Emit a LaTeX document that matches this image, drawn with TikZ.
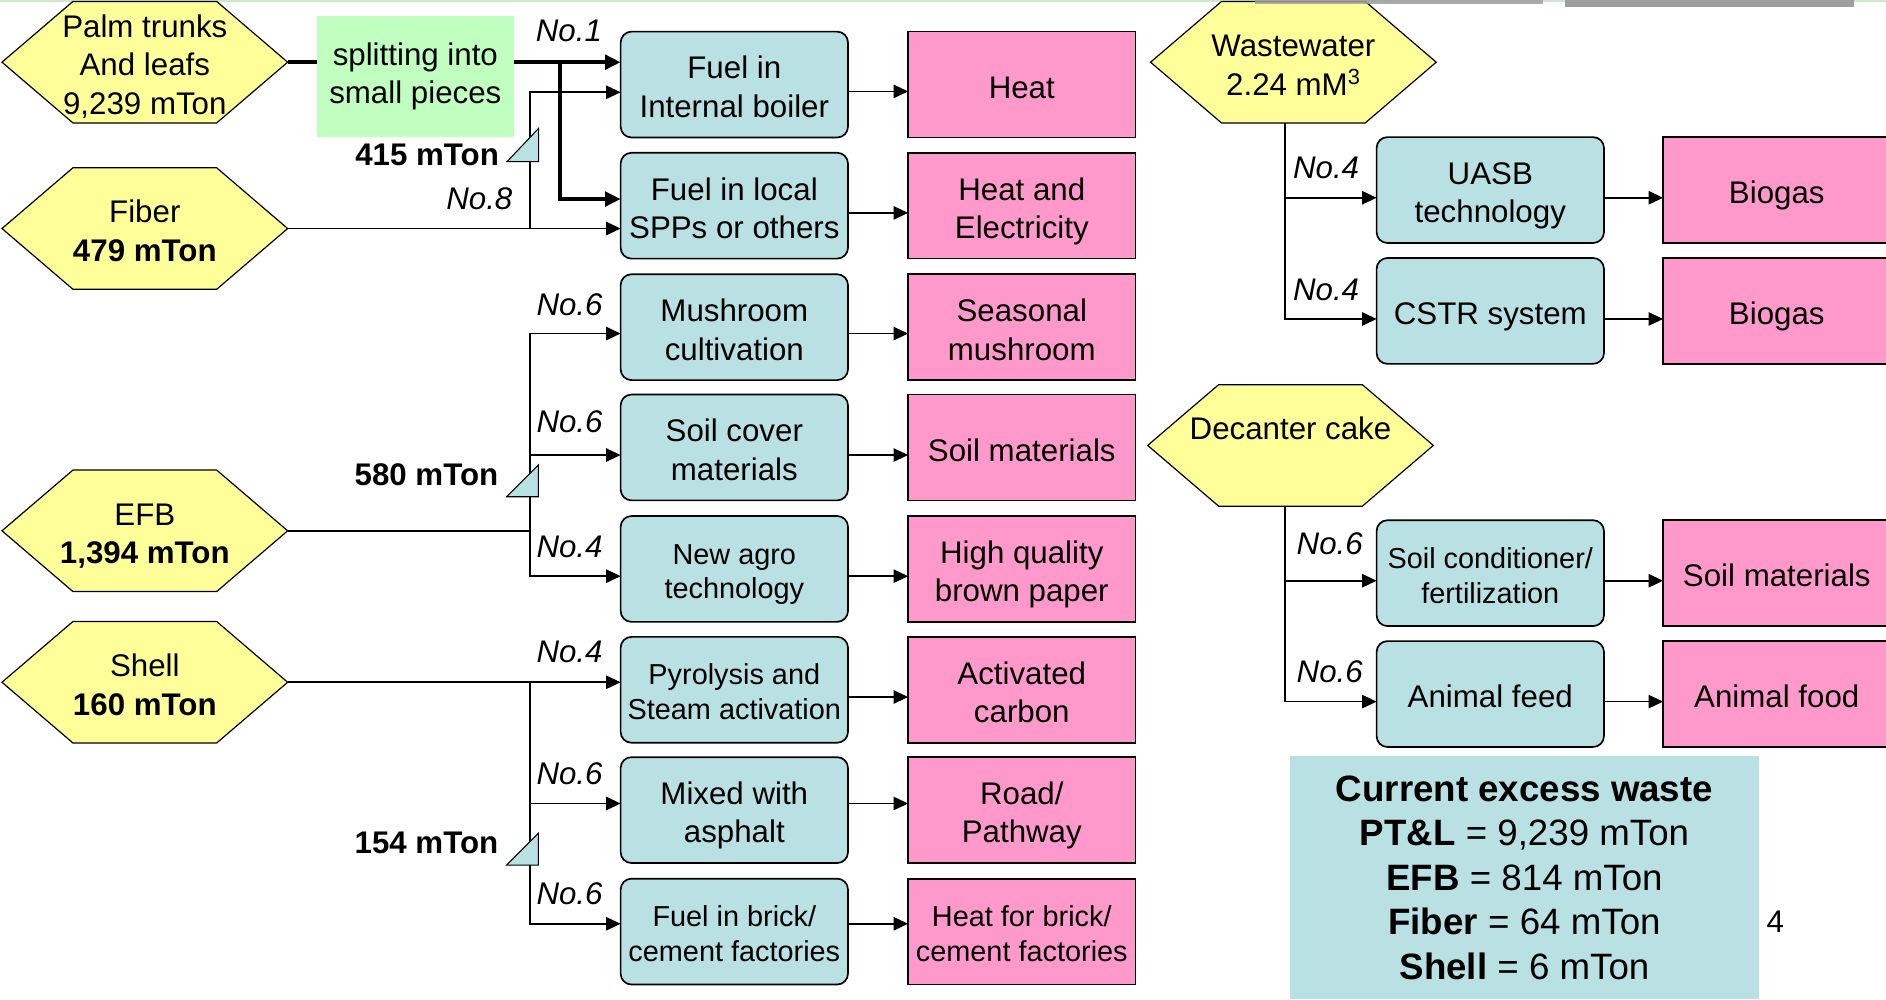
\documentclass[tikz,border=0pt]{standalone}
\usepackage{fontspec}
\setmainfont{Liberation Sans}
\usetikzlibrary{arrows.meta,calc}
\definecolor{procblue}{RGB}{185,224,227}
\definecolor{prodpink}{RGB}{255,153,204}
\definecolor{hexyellow}{RGB}{255,255,153}
\definecolor{splitgreen}{RGB}{192,255,192}
\definecolor{topgreen}{RGB}{206,232,206}
\definecolor{bargray}{RGB}{158,158,158}
\newcommand\tp{\rule{0pt}{1.1em}}
\newcommand\bt{\rule[-0.23em]{0pt}{0pt}}
\tikzset{
 plain/.style={font=\fontsize{26}{32}\selectfont, align=center, inner sep=0pt, outer sep=0pt},
 smalltext/.style={font=\fontsize{24}{29}\selectfont},
 procbox/.style={plain, draw=black, line width=1.4pt, fill=procblue, rounded corners=9pt, minimum width=189pt, minimum height=88pt},
 prodbox/.style={plain, draw=black, line width=1.4pt, fill=prodpink, minimum width=189pt, minimum height=88pt},
 hexbox/.style={plain, minimum width=237.5pt, minimum height=101pt},
 hexline/.style={fill=hexyellow, draw=black, line width=1pt},
 ln/.style={line width=1.3pt},
 arr/.style={ln, -{Triangle[length=12pt,width=11pt]}},
 arrtwo/.style={ln, {Triangle[length=12pt,width=11pt]}-{Triangle[length=12pt,width=11pt]}},
 thk/.style={line width=3.5pt},
 thkarr/.style={thk, -{Triangle[length=13pt,width=12pt]}},
 nolab/.style={font=\fontsize{26}{32}\selectfont\itshape, inner sep=0pt},
 masslab/.style={font=\fontsize{26}{32}\selectfont\bfseries, inner sep=0pt, anchor=east},
 tri/.style={fill=procblue, draw=black, line width=0.9pt},
}
\newcommand\hexnode[4]{%
 \filldraw[hexline] ($(#2,#3)+(-118.75,0)$) -- ++(59,-50.5) -- ++(119.5,0) -- ++(59,50.5) -- ++(-59,50.5) -- ++(-119.5,0) -- cycle;
 \node[hexbox] (#1) at (#2,#3) {#4};}
\begin{document}
\begin{tikzpicture}[x=1pt,y=-1pt]
\useasboundingbox (0,0) rectangle (1568,831);
\fill[white] (0,0) rectangle (1568,831);
\fill[topgreen] (0,0) rectangle (1568,1.6);

% sources
\hexnode{palm}{120.4}{51.7}{\tp Palm trunks\\And leafs\\9,239 mTon\bt}
\hexnode{fiber}{120.4}{190}{\tp Fiber\\\textbf{479 mTon}\bt}
\hexnode{efb}{120.4}{441.3}{\tp EFB\\\textbf{1,394 mTon}\bt}
\hexnode{shell}{120.4}{567.2}{\tp Shell\\\textbf{160 mTon}\bt}
\hexnode{ww}{1075.3}{51.7}{\tp Wastewater\\2.24 mM\textsuperscript{3}\bt}
\hexnode{dec}{1072.9}{370.3}{\tp Decanter cake\\\mbox{}\bt}

\node[plain, fill=splitgreen, minimum width=163.5pt, minimum height=100.7pt] (split) at (345.3,63.7) {splitting into\\small pieces};

% process boxes (left)
\node[procbox] (b1) at (610.5,70.3) {\tp Fuel in\\Internal boiler\bt};
\node[procbox] (b2) at (610.5,171) {\tp Fuel in local\\SPPs or others\bt};
\node[procbox] (b3) at (610.5,272) {\tp Mushroom\\cultivation\bt};
\node[procbox] (b4) at (610.5,372) {\tp Soil cover\\materials\bt};
\node[procbox, smalltext] (b5) at (610.5,473) {\tp New agro\\technology\bt};
\node[procbox, smalltext] (b6) at (610.5,573.5) {\tp Pyrolysis and\\Steam activation\bt};
\node[procbox] (b7) at (610.5,673.5) {\tp Mixed with\\asphalt\bt};
\node[procbox, smalltext] (b8) at (610.5,774.5) {\tp Fuel in brick/\\cement factories\bt};

% products (left)
\node[prodbox] (p1) at (849.5,70.3) {\tp Heat\bt};
\node[prodbox] (p2) at (849.5,171) {\tp Heat and\\Electricity\bt};
\node[prodbox] (p3) at (849.5,272) {\tp Seasonal\\mushroom\bt};
\node[prodbox] (p4) at (849.5,372) {\tp Soil materials\bt};
\node[prodbox] (p5) at (849.5,473) {\tp High quality\\brown paper\bt};
\node[prodbox] (p6) at (849.5,573.5) {\tp Activated\\carbon\bt};
\node[prodbox] (p7) at (849.5,673.5) {\tp Road/\\Pathway\bt};
\node[prodbox, smalltext] (p8) at (849.5,774.5) {\tp Heat for brick/\\cement factories\bt};

% right column
\node[procbox] (rb1) at (1239,158) {\tp UASB\\technology\bt};
\node[procbox] (rb2) at (1239,258.5) {\tp CSTR system\bt};
\node[procbox, smalltext] (rb3) at (1239,476.5) {\tp Soil conditioner/\\fertilization\bt};
\node[procbox] (rb4) at (1239,577) {\tp Animal feed\bt};
\node[prodbox] (rp1) at (1477.2,158) {\tp Biogas\bt};
\node[prodbox] (rp2) at (1477.2,258.5) {\tp Biogas\bt};
\node[prodbox] (rp3) at (1477.2,476.5) {\tp Soil materials\bt};
\node[prodbox] (rp4) at (1477.2,577) {\tp Animal food\bt};

% palm trunks / fiber connectors
\draw[thk] (palm.east) -- (palm.east -| split.west);
\draw[thkarr] (split.east |- palm.east) -- (b1.west |- palm.east);
\coordinate (ja) at (465.5,51.7);
\coordinate (jb) at (465.5,165.5);
\draw[thkarr] (ja) -- (jb) -- (b2.west |- jb);
\draw[arr] (fiber.east) -- (b2.west |- fiber.east);
\coordinate (fa) at (440.7,76.7);
\draw[arr] (fiber.east -| fa) -- (fa) -- (b1.west |- fa);
\filldraw[tri] (421.5,134.4) -- (447.8,106.7) -- (447.8,134.4) -- cycle;

% EFB connectors
\coordinate (ea) at (440.6,277.3);
\coordinate (eb) at (440.6,378.3);
\coordinate (ec) at (440.6,479);
\draw[ln] (efb.east) -- (efb.east -| ea);
\draw[arrtwo] (b3.west |- ea) -- (ea) -- (ec) -- (b5.west |- ec);
\draw[arr] (eb) -- (b4.west |- eb);
\filldraw[tri] (421.2,413) -- (447.6,386.6) -- (447.6,413) -- cycle;

% Shell connectors
\coordinate (sa) at (440.6,567.2);
\coordinate (sb) at (440.6,668);
\coordinate (sc) at (440.6,768);
\draw[arr] (shell.east) -- (b6.west |- shell.east);
\draw[arr] (sa) -- (sc) -- (b8.west |- sc);
\draw[arr] (sb) -- (b7.west |- sb);
\filldraw[tri] (421.2,719.2) -- (447.6,692.8) -- (447.6,719.2) -- cycle;

% process -> product (left)
\foreach \a/\b/\yy in {b1/p1/76, b2/p2/177, b3/p3/277.3, b4/p4/378.3, b5/p5/479, b6/p6/579.5, b7/p7/668, b8/p8/768}
  \draw[arr] (\a.east |- 0,\yy) -- (\b.west |- 0,\yy);

% wastewater
\coordinate (wa) at (1068.5,164.4);
\coordinate (wb) at (1068.5,265.2);
\draw[arr] (ww.south -| wa) -- (wb) -- (rb2.west |- wb);
\draw[arr] (wa) -- (rb1.west |- wa);
\draw[arr] (rb1.east |- wa) -- (rp1.west |- wa);
\draw[arr] (rb2.east |- wb) -- (rp2.west |- wb);

% decanter cake
\coordinate (da) at (1068.5,482.8);
\coordinate (db) at (1068.5,583.3);
\draw[arr] (dec.south -| da) -- (db) -- (rb4.west |- db);
\draw[arr] (da) -- (rb3.west |- da);
\draw[arr] (rb3.east |- da) -- (rp3.west |- da);
\draw[arr] (rb4.east |- db) -- (rp4.west |- db);

% labels
\node[nolab] (l1) at (473,25.5) {No.1};
\node[nolab] (l8) at (398.5,165) {No.8};
\node[masslab] (m1) at (415,129) {415 mTon};
\node[nolab] (l3) at (473.5,253.6) {No.6};
\node[nolab] (l4) at (473.5,350.6) {No.6};
\node[nolab] (l5) at (473.5,454.5) {No.4};
\node[masslab] (m2) at (414.5,395) {580 mTon};
\node[nolab] (l6) at (473.5,541.8) {No.4};
\node[nolab] (l7) at (473.5,643) {No.6};
\node[nolab] (l9) at (473.5,742.7) {No.6};
\node[masslab] (m3) at (414.5,701) {154 mTon};
\node[nolab] (r1) at (1102.5,139.9) {No.4};
\node[nolab] (r2) at (1102.5,241) {No.4};
\node[nolab] (r3) at (1105.5,451.7) {No.6};
\node[nolab] (r4) at (1105.5,558.4) {No.6};

% summary
\node[plain, fill=procblue, minimum width=390.4pt, minimum height=202pt, font=\fontsize{30.5}{37}\selectfont] (sum) at (1267.4,729.5)
 {\textbf{Current excess waste}\\\textbf{PT\&L} = 9,239 mTon\\\textbf{EFB} = 814 mTon\\\textbf{Fiber} = 64 mTon\\\textbf{Shell} = 6 mTon};
\node[plain] (pg) at (1476,766) {4};

% slide remnants at the top
\fill[bargray, opacity=0.85] (1043,0) rectangle (1283,3.3);
\fill[bargray] (1301,0) rectangle (1541,6);
\end{tikzpicture}
\end{document}
